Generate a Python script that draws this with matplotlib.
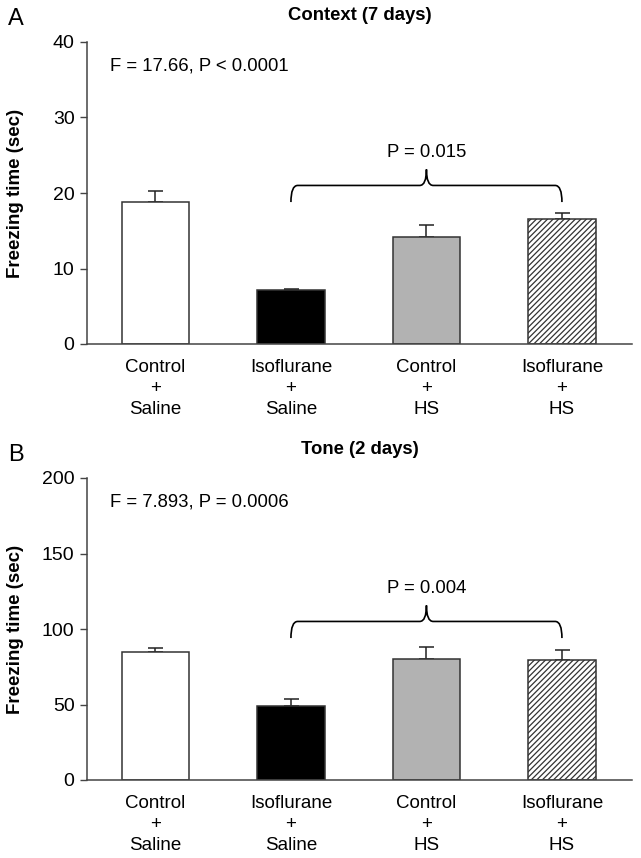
import matplotlib
matplotlib.use("Agg")
import matplotlib.pyplot as plt
import numpy as np
from matplotlib.path import Path
from matplotlib.patches import PathPatch
import matplotlib.transforms as mtransforms

plt.rcParams['font.family'] = ['Liberation Sans', 'DejaVu Sans']
plt.rcParams['hatch.linewidth'] = 0.9

categories = ["Control\n+\nSaline", "Isoflurane\n+\nSaline", "Control\n+\nHS", "Isoflurane\n+\nHS"]
context_means = [18.8, 7.1, 14.2, 16.5]
context_sem = [1.4, 0.25, 1.6, 0.85]
tone_means = [84.8, 49.0, 80.0, 79.3]
tone_sem = [2.8, 4.6, 8.3, 6.8]

titles = ["Context (7 days)", "Tone (2 days)"]
panel_letters = ["A", "B"]
stats_text = ["F = 17.66, P < 0.0001", "F = 7.893, P = 0.0006"]
bracket_text = ["P = 0.015", "P = 0.004"]
ylims = [40, 200]
yticks = [[0, 10, 20, 30, 40], [0, 50, 100, 150, 200]]

facecolors = ["white", "black", "#b2b2b2", "white"]
hatches = [None, None, None, "//////"]

W, H = 641, 858
fig = plt.figure(figsize=(W / 100, H / 100), dpi=100)

axes_rects = [
    [87 / W, 1 - 344 / H, (632 - 87) / W, (344 - 42) / H],
    [87 / W, 1 - 780 / H, (632 - 87) / W, (780 - 478) / H],
]
title_y = [15, 450]
letter_y = [19, 455]

def draw_bracket(ax, x0, x1, xm):
    trans = mtransforms.blended_transform_factory(ax.transData, ax.transAxes)
    yend, yh, ypk = 0.47, 0.525, 0.578
    dx = 0.05
    verts = [
        (x0, yend), (x0, yh), (x0 + dx, yh),
        (xm - dx, yh),
        (xm, yh), (xm, ypk),
        (xm, yh), (xm + dx, yh),
        (x1 - dx, yh),
        (x1, yh), (x1, yend),
    ]
    codes = [Path.MOVETO, Path.CURVE3, Path.CURVE3,
             Path.LINETO,
             Path.CURVE3, Path.CURVE3,
             Path.CURVE3, Path.CURVE3,
             Path.LINETO,
             Path.CURVE3, Path.CURVE3]
    patch = PathPatch(Path(verts, codes), transform=trans, fill=False,
                      edgecolor="black", lw=1.2, clip_on=False)
    ax.add_patch(patch)

data = [(context_means, context_sem), (tone_means, tone_sem)]
for i in range(2):
    ax = fig.add_axes(axes_rects[i])
    means, sems = data[i]
    x = np.arange(len(categories))
    bars = ax.bar(x, means, width=0.5, color=facecolors, edgecolor="#333333",
                  linewidth=1.1, zorder=2)
    for b, h in zip(bars, hatches):
        if h:
            b.set_hatch(h)
    ax.errorbar(x, means, yerr=[np.zeros(len(sems)), sems], fmt="none",
                ecolor="#222222", elinewidth=1.1, capsize=5.4, capthick=1.1,
                zorder=1)
    ax.set_xlim(-0.505, 3.517)
    ax.set_ylim(0, ylims[i])
    ax.set_yticks(yticks[i])
    ax.set_xticks(x)
    ax.set_xticklabels(categories, fontsize=13.5, linespacing=1.3)
    ax.tick_params(axis="x", length=0, pad=11)
    ax.tick_params(axis="y", length=5, width=1.0, color="#444444",
                   labelsize=14, pad=4)
    for s in ["top", "right"]:
        ax.spines[s].set_visible(False)
    for s in ["left", "bottom"]:
        ax.spines[s].set_color("#444444")
        ax.spines[s].set_linewidth(1.1)
    ax.text(0.042, 0.92, stats_text[i], transform=ax.transAxes, fontsize=13.3,
            ha="left", va="center")
    draw_bracket(ax, 1, 3, 2)
    trans = mtransforms.blended_transform_factory(ax.transData, ax.transAxes)
    ax.text(2, 0.634, bracket_text[i], transform=trans, fontsize=13.3,
            ha="center", va="center")
    fig.text(16 / W, axes_rects[i][1] + axes_rects[i][3] / 2,
             "Freezing time (sec)", rotation=90, fontsize=13.5,
             fontweight="bold", ha="center", va="center")
    fig.text(360 / W, 1 - title_y[i] / H, titles[i], fontsize=13.3,
             fontweight="bold", ha="center", va="center")
    fig.text(16 / W, 1 - letter_y[i] / H, panel_letters[i], fontsize=17,
             ha="center", va="center")

fig.savefig("out.png", dpi=100)
